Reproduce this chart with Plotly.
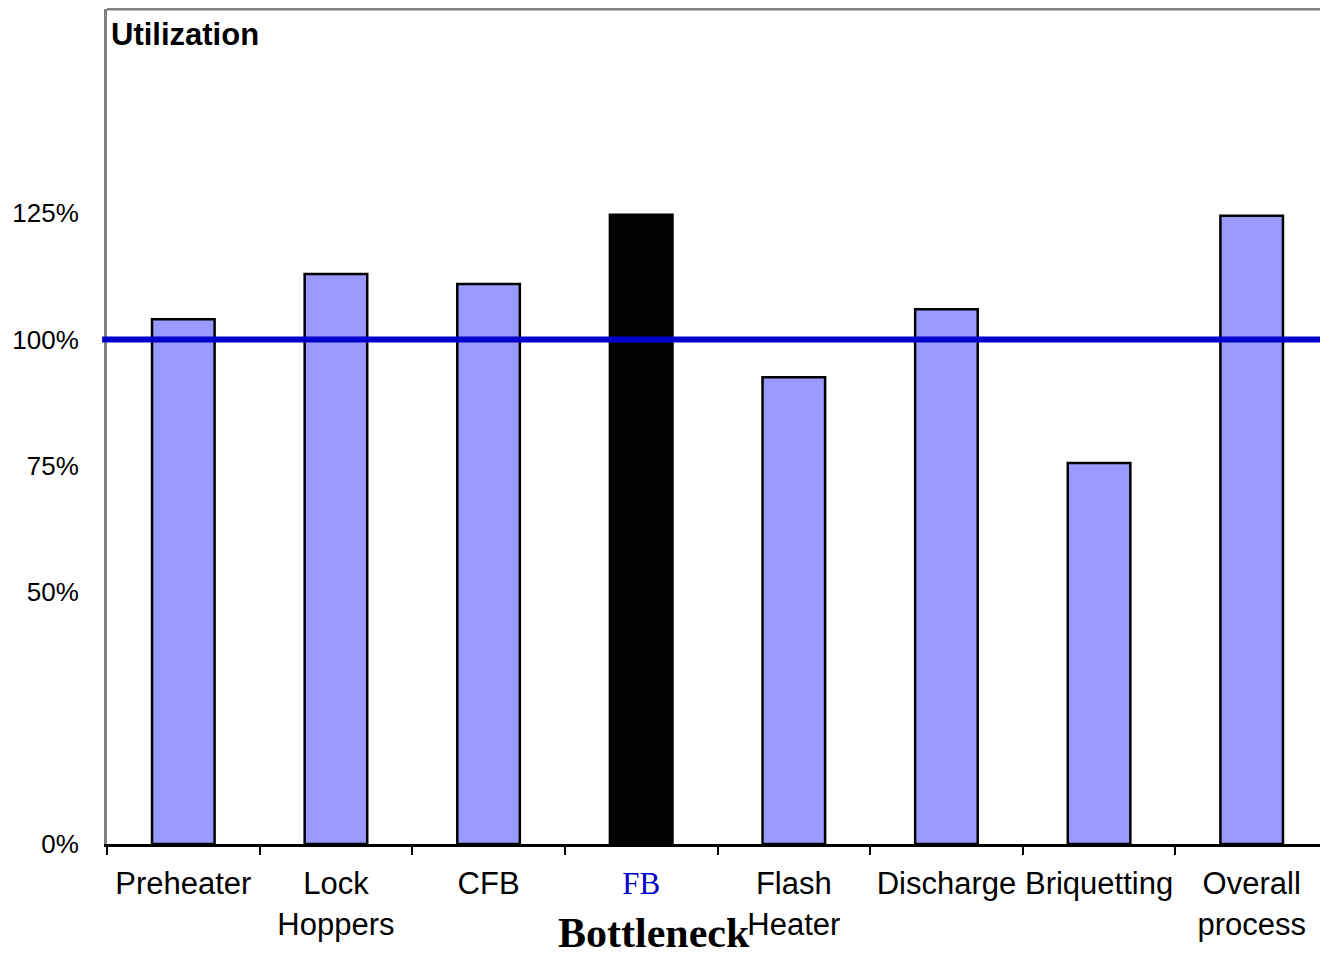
import plotly.graph_objects as go

# ---- data ----
categories = ["Preheater", "Lock Hoppers", "CFB", "FB", "Flash Heater",
              "Discharge", "Briquetting", "Overall process"]
tick_labels = ["Preheater", "Lock<br>Hoppers", "CFB",
               '<span style="color:#0000CC;font-family:\'Liberation Serif\', \'Times New Roman\', serif">FB</span>',
               "Flash<br>Heater", "Discharge", "Briquetting", "Overall<br>process"]
utilization = [104, 113, 111, 124.7, 92.5, 106, 75.5, 124.5]
capacity_line = 100
y_tick_values = [0, 50, 75, 100, 125]
y_tick_labels = ["0%", "50%", "75%", "100%", "125%"]
bottleneck = "FB"

bar_colors = ["#000000" if c == bottleneck else "#9999FF" for c in categories]

fig = go.Figure()
fig.add_trace(go.Bar(
    x=categories,
    y=utilization,
    width=0.41,
    marker=dict(color=bar_colors, line=dict(color="#000000", width=2.5)),
    hoverinfo="skip",
))

# capacity (100%) line
fig.add_shape(type="line", xref="paper", yref="y",
              x0=-0.004, x1=1.0, y0=capacity_line, y1=capacity_line,
              line=dict(color="#0000CC", width=6), layer="above")
# top frame line
fig.add_shape(type="line", xref="paper", yref="paper",
              x0=0, x1=1, y0=1, y1=1,
              line=dict(color="#808080", width=3))

fig.add_annotation(text="<b>Utilization</b>", xref="paper", yref="paper",
                   x=0, y=1, xanchor="left", yanchor="top", xshift=2, yshift=-6,
                   showarrow=False,
                   font=dict(family="Liberation Sans, Arial, sans-serif", size=31, color="#000000"))
fig.add_annotation(text="<b>Bottleneck</b>", xref="paper", yref="paper",
                   x=0.448, y=-0.107, xanchor="center", yanchor="middle",
                   showarrow=False,
                   font=dict(family="Liberation Serif, Times New Roman, serif", size=42, color="#000000"))

fig.update_layout(
    width=1320, height=947,
    margin=dict(l=99, r=0, t=1, b=111, autoexpand=False),
    paper_bgcolor="white", plot_bgcolor="white",
    showlegend=False,
    font=dict(family="Liberation Sans, Arial, sans-serif", color="#000000"),
    xaxis=dict(
        type="category",
        range=[-0.5, len(categories) - 0.5],
        tickmode="array",
        tickvals=categories,
        ticktext=tick_labels,
        tickangle=0,
        automargin=False,
        tickson="boundaries",
        ticks="outside", ticklen=8, tickwidth=2, tickcolor="#000000",
        showline=True, linecolor="#000000", linewidth=3,
        showgrid=False, zeroline=False,
        tickfont=dict(size=31, color="#000000"),
        ticklabelstandoff=10,
    ),
    yaxis=dict(
        range=[0, 165.5],
        tickmode="array",
        tickvals=y_tick_values,
        ticktext=y_tick_labels,
        automargin=False,
        ticks="",
        showline=True, linecolor="#808080", linewidth=3,
        showgrid=False, zeroline=False,
        tickfont=dict(size=26, color="#000000"),
        ticklabelstandoff=20,
    ),
)

fig.write_html("out.html")
